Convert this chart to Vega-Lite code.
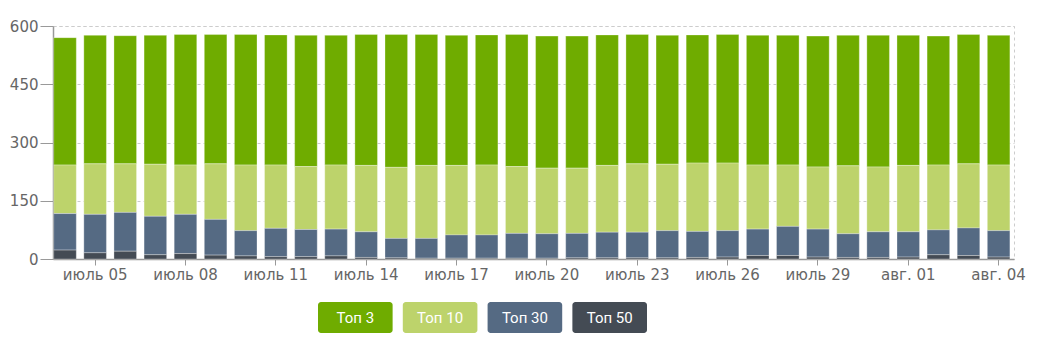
{
  "$schema": "https://vega.github.io/schema/vega-lite/v6.json",
  "padding": {"left": 8, "top": 18, "right": 0, "bottom": 0},
  "background": "#ffffff",
  "spacing": 19,
  "config": {"font": "DejaVu Sans"},
  "datasets": {
    "bars": [
      {"day": "июль 04", "group": "Топ 3", "rank": 4, "value": 328}, {"day": "июль 04", "group": "Топ 10", "rank": 3, "value": 125}, {"day": "июль 04", "group": "Топ 30", "rank": 2, "value": 94}, {"day": "июль 04", "group": "Топ 50", "rank": 1, "value": 23},
      {"day": "июль 05", "group": "Топ 3", "rank": 4, "value": 331}, {"day": "июль 05", "group": "Топ 10", "rank": 3, "value": 130}, {"day": "июль 05", "group": "Топ 30", "rank": 2, "value": 99}, {"day": "июль 05", "group": "Топ 50", "rank": 1, "value": 16},
      {"day": "июль 06", "group": "Топ 3", "rank": 4, "value": 330}, {"day": "июль 06", "group": "Топ 10", "rank": 3, "value": 125}, {"day": "июль 06", "group": "Топ 30", "rank": 2, "value": 100}, {"day": "июль 06", "group": "Топ 50", "rank": 1, "value": 20},
      {"day": "июль 07", "group": "Топ 3", "rank": 4, "value": 332}, {"day": "июль 07", "group": "Топ 10", "rank": 3, "value": 134}, {"day": "июль 07", "group": "Топ 30", "rank": 2, "value": 99}, {"day": "июль 07", "group": "Топ 50", "rank": 1, "value": 11},
      {"day": "июль 08", "group": "Топ 3", "rank": 4, "value": 336}, {"day": "июль 08", "group": "Топ 10", "rank": 3, "value": 127}, {"day": "июль 08", "group": "Топ 30", "rank": 2, "value": 101}, {"day": "июль 08", "group": "Топ 50", "rank": 1, "value": 14},
      {"day": "июль 09", "group": "Топ 3", "rank": 4, "value": 333}, {"day": "июль 09", "group": "Топ 10", "rank": 3, "value": 143}, {"day": "июль 09", "group": "Топ 30", "rank": 2, "value": 92}, {"day": "июль 09", "group": "Топ 50", "rank": 1, "value": 10},
      {"day": "июль 10", "group": "Топ 3", "rank": 4, "value": 336}, {"day": "июль 10", "group": "Топ 10", "rank": 3, "value": 169}, {"day": "июль 10", "group": "Топ 30", "rank": 2, "value": 65}, {"day": "июль 10", "group": "Топ 50", "rank": 1, "value": 8},
      {"day": "июль 11", "group": "Топ 3", "rank": 4, "value": 335}, {"day": "июль 11", "group": "Топ 10", "rank": 3, "value": 163}, {"day": "июль 11", "group": "Топ 30", "rank": 2, "value": 73}, {"day": "июль 11", "group": "Топ 50", "rank": 1, "value": 6},
      {"day": "июль 12", "group": "Топ 3", "rank": 4, "value": 338}, {"day": "июль 12", "group": "Топ 10", "rank": 3, "value": 162}, {"day": "июль 12", "group": "Топ 30", "rank": 2, "value": 70}, {"day": "июль 12", "group": "Топ 50", "rank": 1, "value": 6},
      {"day": "июль 13", "group": "Топ 3", "rank": 4, "value": 334}, {"day": "июль 13", "group": "Топ 10", "rank": 3, "value": 165}, {"day": "июль 13", "group": "Топ 30", "rank": 2, "value": 69}, {"day": "июль 13", "group": "Топ 50", "rank": 1, "value": 8},
      {"day": "июль 14", "group": "Топ 3", "rank": 4, "value": 337}, {"day": "июль 14", "group": "Топ 10", "rank": 3, "value": 171}, {"day": "июль 14", "group": "Топ 30", "rank": 2, "value": 66}, {"day": "июль 14", "group": "Топ 50", "rank": 1, "value": 4},
      {"day": "июль 15", "group": "Топ 3", "rank": 4, "value": 342}, {"day": "июль 15", "group": "Топ 10", "rank": 3, "value": 183}, {"day": "июль 15", "group": "Топ 30", "rank": 2, "value": 50}, {"day": "июль 15", "group": "Топ 50", "rank": 1, "value": 3},
      {"day": "июль 16", "group": "Топ 3", "rank": 4, "value": 337}, {"day": "июль 16", "group": "Топ 10", "rank": 3, "value": 188}, {"day": "июль 16", "group": "Топ 30", "rank": 2, "value": 51}, {"day": "июль 16", "group": "Топ 50", "rank": 1, "value": 2},
      {"day": "июль 17", "group": "Топ 3", "rank": 4, "value": 335}, {"day": "июль 17", "group": "Топ 10", "rank": 3, "value": 179}, {"day": "июль 17", "group": "Топ 30", "rank": 2, "value": 60}, {"day": "июль 17", "group": "Топ 50", "rank": 1, "value": 2},
      {"day": "июль 18", "group": "Топ 3", "rank": 4, "value": 335}, {"day": "июль 18", "group": "Топ 10", "rank": 3, "value": 180}, {"day": "июль 18", "group": "Топ 30", "rank": 2, "value": 60}, {"day": "июль 18", "group": "Топ 50", "rank": 1, "value": 2},
      {"day": "июль 19", "group": "Топ 3", "rank": 4, "value": 340}, {"day": "июль 19", "group": "Топ 10", "rank": 3, "value": 172}, {"day": "июль 19", "group": "Топ 30", "rank": 2, "value": 64}, {"day": "июль 19", "group": "Топ 50", "rank": 1, "value": 2},
      {"day": "июль 20", "group": "Топ 3", "rank": 4, "value": 340}, {"day": "июль 20", "group": "Топ 10", "rank": 3, "value": 169}, {"day": "июль 20", "group": "Топ 30", "rank": 2, "value": 63}, {"day": "июль 20", "group": "Топ 50", "rank": 1, "value": 2},
      {"day": "июль 21", "group": "Топ 3", "rank": 4, "value": 340}, {"day": "июль 21", "group": "Топ 10", "rank": 3, "value": 168}, {"day": "июль 21", "group": "Топ 30", "rank": 2, "value": 63}, {"day": "июль 21", "group": "Топ 50", "rank": 1, "value": 3},
      {"day": "июль 22", "group": "Топ 3", "rank": 4, "value": 336}, {"day": "июль 22", "group": "Топ 10", "rank": 3, "value": 172}, {"day": "июль 22", "group": "Топ 30", "rank": 2, "value": 66}, {"day": "июль 22", "group": "Топ 50", "rank": 1, "value": 3},
      {"day": "июль 23", "group": "Топ 3", "rank": 4, "value": 333}, {"day": "июль 23", "group": "Топ 10", "rank": 3, "value": 176}, {"day": "июль 23", "group": "Топ 30", "rank": 2, "value": 66}, {"day": "июль 23", "group": "Топ 50", "rank": 1, "value": 3},
      {"day": "июль 24", "group": "Топ 3", "rank": 4, "value": 332}, {"day": "июль 24", "group": "Топ 10", "rank": 3, "value": 171}, {"day": "июль 24", "group": "Топ 30", "rank": 2, "value": 70}, {"day": "июль 24", "group": "Топ 50", "rank": 1, "value": 3},
      {"day": "июль 25", "group": "Топ 3", "rank": 4, "value": 330}, {"day": "июль 25", "group": "Топ 10", "rank": 3, "value": 176}, {"day": "июль 25", "group": "Топ 30", "rank": 2, "value": 67}, {"day": "июль 25", "group": "Топ 50", "rank": 1, "value": 4},
      {"day": "июль 26", "group": "Топ 3", "rank": 4, "value": 331}, {"day": "июль 26", "group": "Топ 10", "rank": 3, "value": 174}, {"day": "июль 26", "group": "Топ 30", "rank": 2, "value": 68}, {"day": "июль 26", "group": "Топ 50", "rank": 1, "value": 5},
      {"day": "июль 27", "group": "Топ 3", "rank": 4, "value": 334}, {"day": "июль 27", "group": "Топ 10", "rank": 3, "value": 165}, {"day": "июль 27", "group": "Топ 30", "rank": 2, "value": 68}, {"day": "июль 27", "group": "Топ 50", "rank": 1, "value": 9},
      {"day": "июль 28", "group": "Топ 3", "rank": 4, "value": 334}, {"day": "июль 28", "group": "Топ 10", "rank": 3, "value": 158}, {"day": "июль 28", "group": "Топ 30", "rank": 2, "value": 75}, {"day": "июль 28", "group": "Топ 50", "rank": 1, "value": 9},
      {"day": "июль 29", "group": "Топ 3", "rank": 4, "value": 337}, {"day": "июль 29", "group": "Топ 10", "rank": 3, "value": 160}, {"day": "июль 29", "group": "Топ 30", "rank": 2, "value": 72}, {"day": "июль 29", "group": "Топ 50", "rank": 1, "value": 5},
      {"day": "июль 30", "group": "Топ 3", "rank": 4, "value": 336}, {"day": "июль 30", "group": "Топ 10", "rank": 3, "value": 175}, {"day": "июль 30", "group": "Топ 30", "rank": 2, "value": 61}, {"day": "июль 30", "group": "Топ 50", "rank": 1, "value": 4},
      {"day": "июль 31", "group": "Топ 3", "rank": 4, "value": 339}, {"day": "июль 31", "group": "Топ 10", "rank": 3, "value": 167}, {"day": "июль 31", "group": "Топ 30", "rank": 2, "value": 66}, {"day": "июль 31", "group": "Топ 50", "rank": 1, "value": 4},
      {"day": "авг. 01", "group": "Топ 3", "rank": 4, "value": 335}, {"day": "авг. 01", "group": "Топ 10", "rank": 3, "value": 171}, {"day": "авг. 01", "group": "Топ 30", "rank": 2, "value": 65}, {"day": "авг. 01", "group": "Топ 50", "rank": 1, "value": 5},
      {"day": "авг. 02", "group": "Топ 3", "rank": 4, "value": 332}, {"day": "авг. 02", "group": "Топ 10", "rank": 3, "value": 167}, {"day": "авг. 02", "group": "Топ 30", "rank": 2, "value": 64}, {"day": "авг. 02", "group": "Топ 50", "rank": 1, "value": 11},
      {"day": "авг. 03", "group": "Топ 3", "rank": 4, "value": 333}, {"day": "авг. 03", "group": "Топ 10", "rank": 3, "value": 165}, {"day": "авг. 03", "group": "Топ 30", "rank": 2, "value": 71}, {"day": "авг. 03", "group": "Топ 50", "rank": 1, "value": 9},
      {"day": "авг. 04", "group": "Топ 3", "rank": 4, "value": 334}, {"day": "авг. 04", "group": "Топ 10", "rank": 3, "value": 169}, {"day": "авг. 04", "group": "Топ 30", "rank": 2, "value": 68}, {"day": "авг. 04", "group": "Топ 50", "rank": 1, "value": 5}
    ],
    "legend": [
      {"group": "Топ 3"}, {"group": "Топ 10"}, {"group": "Топ 30"}, {"group": "Топ 50"}
    ]
  },
  "vconcat": [
    {
      "width": 961,
      "height": 233,
      "data": {"name": "bars"},
      "view": {"stroke": "#cccccc", "strokeDash": [3, 3], "strokeWidth": 1},
      "mark": {"type": "bar", "stroke": "#ffffff", "strokeOpacity": 0.3, "strokeWidth": 1},
      "encoding": {
        "x": {
          "field": "day", "type": "nominal", "sort": null,
          "scale": {"paddingInner": 0.25, "paddingOuter": 0.08, "align": 0.15},
          "axis": {
            "title": null, "labelAngle": 0,
            "values": ["июль 05", "июль 08", "июль 11", "июль 14", "июль 17", "июль 20", "июль 23", "июль 26", "июль 29", "авг. 01", "авг. 04"],
            "labelFontSize": 15, "labelColor": "#666666", "labelPadding": 2,
            "tickSize": 6, "tickColor": "#999999", "domainColor": "#999999", "domainWidth": 1.5,
            "grid": false
          }
        },
        "y": {
          "field": "value", "type": "quantitative", "stack": "zero",
          "scale": {"domain": [0, 600], "nice": false},
          "axis": {
            "title": null, "values": [0, 150, 300, 450, 600],
            "labelFontSize": 15, "labelColor": "#666666", "labelPadding": 2,
            "tickSize": 13, "tickColor": "#999999", "domainColor": "#999999", "domainWidth": 1.5,
            "grid": true, "gridColor": "#cccccc", "gridDash": [3, 3]
          }
        },
        "color": {
          "field": "group", "type": "nominal",
          "scale": {"domain": ["Топ 3", "Топ 10", "Топ 30", "Топ 50"], "range": ["#6fac00", "#bdd36b", "#556a83", "#444b54"]},
          "legend": null
        },
        "order": {"field": "rank", "type": "quantitative", "sort": "ascending"}
      }
    },
    {
      "width": 961,
      "height": 31,
      "data": {"name": "legend"},
      "view": {"stroke": null},
      "encoding": {
        "x": {
          "field": "group", "type": "nominal", "sort": null,
          "scale": {"range": [265, 594], "paddingInner": 0.12, "paddingOuter": 0},
          "axis": null
        }
      },
      "layer": [
        {
          "mark": {"type": "bar", "cornerRadius": 3},
          "encoding": {
            "color": {"field": "group", "type": "nominal", "legend": null}
          }
        },
        {
          "mark": {"type": "text", "color": "#ffffff", "fontSize": 15, "font": "Roboto"},
          "encoding": {"text": {"field": "group"}}
        }
      ]
    }
  ]
}
